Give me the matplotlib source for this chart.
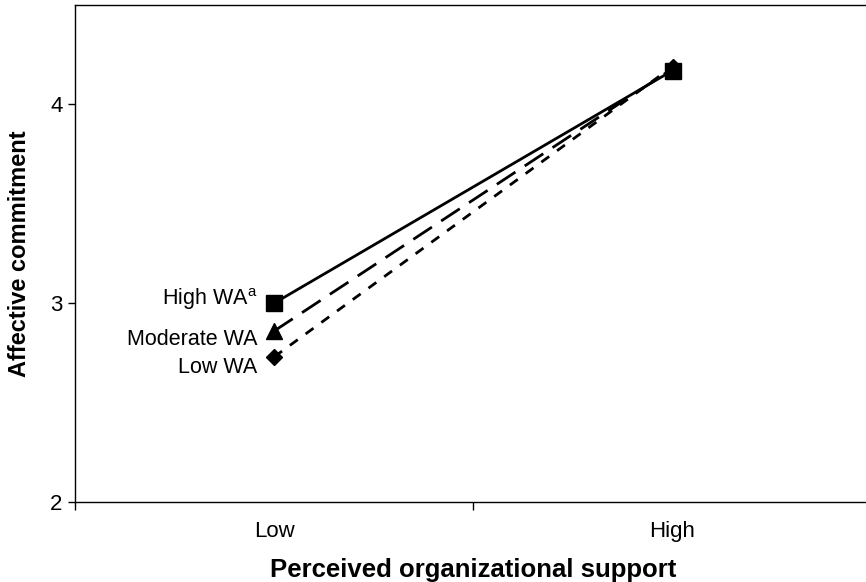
import matplotlib
matplotlib.use('Agg')
import matplotlib.pyplot as plt

plt.rcParams['font.family'] = ['Liberation Sans', 'DejaVu Sans']

# data
pos_levels = ['Low', 'High']
x_pos = [0.5, 1.5]
high_wa = [3.00, 4.17]
moderate_wa = [2.86, 4.18]
low_wa = [2.73, 4.19]
series_labels = ['High WA$^{\\mathregular{a}}$', 'Moderate WA', 'Low WA']
label_dy = [3, -6, -8]  # small vertical nudges of the labels, points

fig = plt.figure(figsize=(8.66, 5.82), dpi=100)
ax = fig.add_axes([0.0866, 0.1375, 0.92, 0.854])

# lines
ax.plot(x_pos, high_wa, color='black', lw=2.0, ls='-',
        marker='s', markersize=11, zorder=3)
ax.plot(x_pos, moderate_wa, color='black', lw=2.0, ls=(0, (8, 4)),
        marker='^', markersize=11, zorder=3)
ax.plot(x_pos, low_wa, color='black', lw=2.0, ls=(0, (3.5, 3.5)),
        marker='D', markersize=8.5, zorder=3)

# labels left of the low points
for vals, lab, dy in zip([high_wa, moderate_wa, low_wa], series_labels, label_dy):
    ax.annotate(lab, xy=(x_pos[0], vals[0]), xytext=(-12, dy),
                textcoords='offset points', ha='right', va='center',
                fontsize=15.5)

ax.set_xlim(0, 2)
ax.set_ylim(2, 4.5)
ax.set_yticks([2, 3, 4])
ax.set_xticks([0, 1, 2])
ax.set_xticklabels(['', '', ''])
ax.set_xticks(x_pos, minor=True)
ax.set_xticklabels(pos_levels, minor=True)
ax.tick_params(axis='x', which='minor', length=0, pad=14, labelsize=16)
ax.tick_params(axis='x', which='major', length=6, direction='out', width=1)
ax.tick_params(axis='y', length=5, direction='out', width=1, labelsize=16, pad=4)

for s in ['left', 'bottom', 'top']:
    ax.spines[s].set_linewidth(1.0)
ax.spines['right'].set_visible(False)

ax.set_xlabel('Perceived organizational support', fontsize=18.5, fontweight='bold',
              labelpad=11)
ax.set_ylabel('Affective commitment', fontsize=17, fontweight='bold', labelpad=14)

fig.savefig('out.png', dpi=100)
